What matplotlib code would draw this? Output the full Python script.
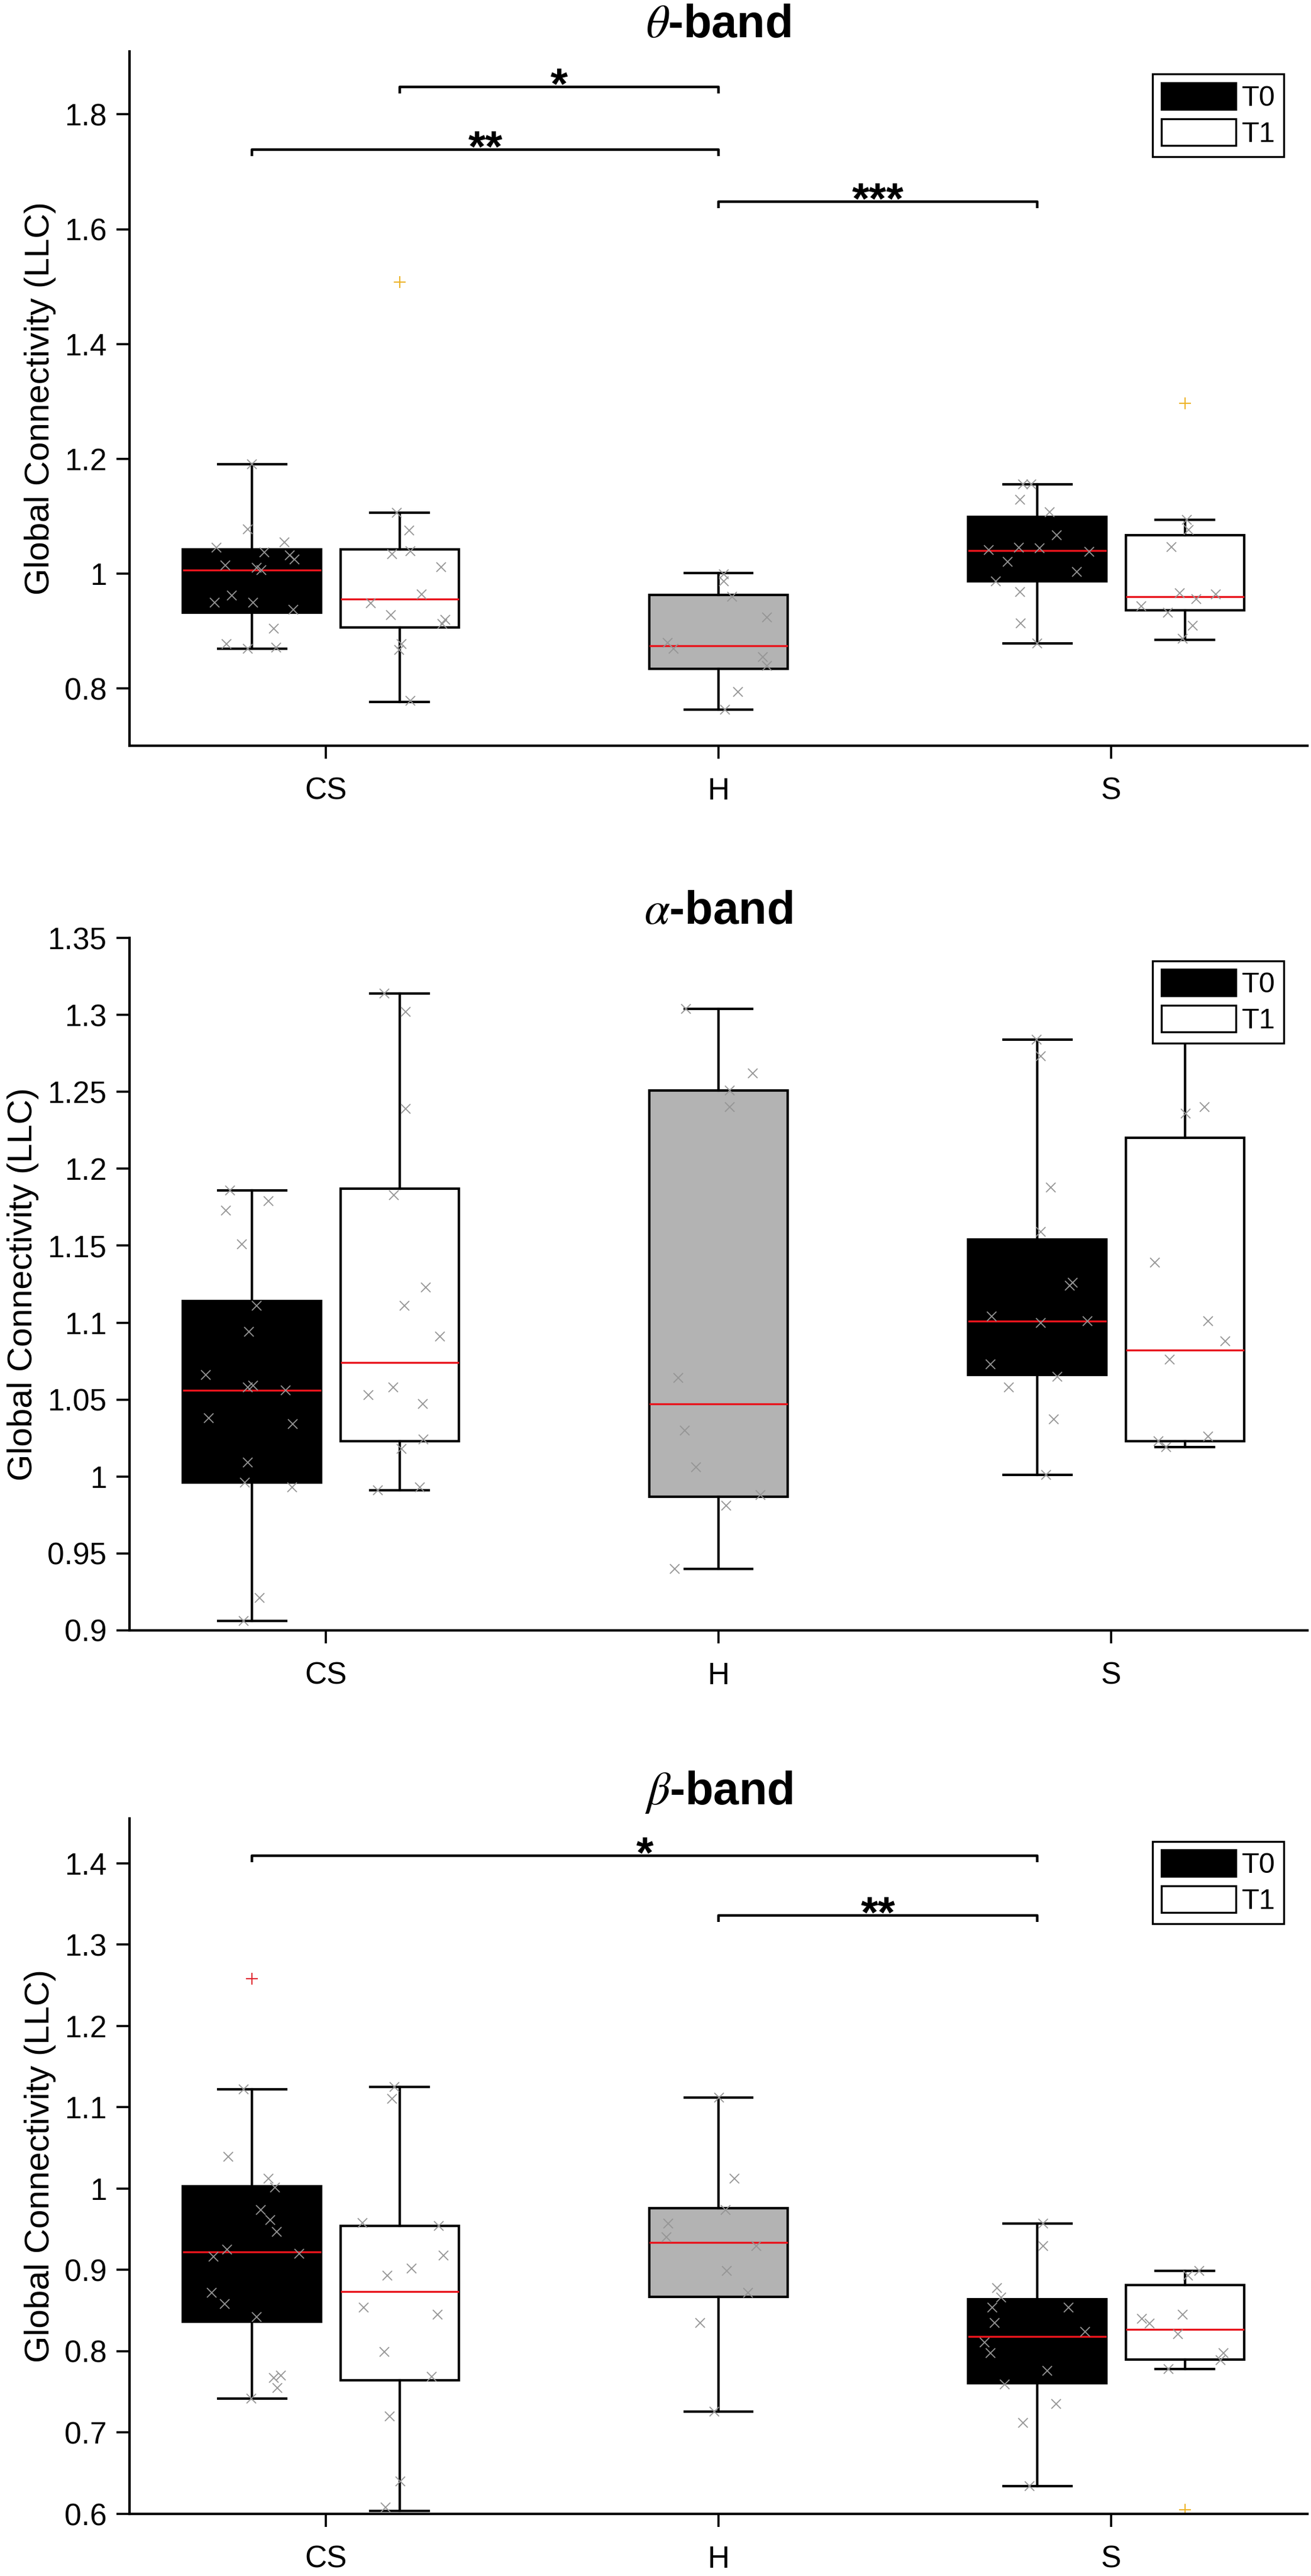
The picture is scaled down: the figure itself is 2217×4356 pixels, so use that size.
import numpy as np
import matplotlib
matplotlib.use("Agg")
import matplotlib.pyplot as plt
from matplotlib.patches import Patch


# =========================
# DATA
# =========================
GROUPS = ["CS", "H", "S"]
LEGEND_LABELS = ["T0", "T1"]

# box order: CS-T0, CS-T1, H, S-T0, S-T1

# theta band
theta_lo = [0.869, 0.776, 0.763, 0.878, 0.884]
theta_q1 = [0.932, 0.906, 0.834, 0.986, 0.936]
theta_med = [1.006, 0.956, 0.874, 1.040, 0.960]
theta_q3 = [1.042, 1.042, 0.963, 1.099, 1.067]
theta_hi = [1.190, 1.106, 1.001, 1.155, 1.094]
theta_out = [[], [1.508], [], [], [1.297]]
theta_pts = [
    [1.190, 1.077, 1.045, 1.055, 1.037, 1.032, 1.025, 1.014, 1.010, 1.006,
     0.962, 0.949, 0.949, 0.937, 0.904, 0.877, 0.869, 0.871],
    [1.106, 1.075, 1.034, 1.039, 1.011, 0.964, 0.948, 0.928, 0.920, 0.912,
     0.877, 0.867, 0.778],
    [0.999, 0.987, 0.960, 0.924, 0.879, 0.869, 0.855, 0.839, 0.794, 0.763],
    [1.155, 1.155, 1.129, 1.107, 1.067, 1.041, 1.045, 1.044, 1.038, 1.021,
     1.003, 0.986, 0.968, 0.913, 0.878],
    [1.094, 1.076, 1.046, 0.966, 0.956, 0.964, 0.943, 0.932, 0.909, 0.887],
]
theta_jit = [
    [0.000, -0.011, -0.090, 0.083, 0.032, 0.096, 0.108, -0.068, 0.011, 0.024,
     -0.051, -0.095, 0.002, 0.105, 0.056, -0.065, -0.011, 0.062],
    [-0.008, 0.024, -0.020, 0.027, 0.105, 0.056, -0.074, -0.023, 0.116, 0.108,
     0.005, -0.002, 0.027],
    [0.013, 0.013, 0.034, 0.123, -0.130, -0.114, 0.113, 0.123, 0.049, 0.017],
    [-0.037, -0.016, -0.044, 0.032, 0.050, -0.124, -0.047, 0.005, 0.132, -0.076,
     0.100, -0.106, -0.044, -0.043, 0.000],
    [0.005, 0.010, -0.035, -0.014, 0.029, 0.078, -0.111, -0.043, 0.020, -0.006],
]
theta_ticks = [0.8, 1.0, 1.2, 1.4, 1.6, 1.8]
# (from box, to box, height, stars)
theta_sig = [(0, 2, 1.739, "**"), (1, 2, 1.848, "*"), (2, 3, 1.648, "***")]

# alpha band
alpha_lo = [0.906, 0.991, 0.940, 1.001, 1.019]
alpha_q1 = [0.996, 1.023, 0.987, 1.066, 1.023]
alpha_med = [1.056, 1.074, 1.047, 1.101, 1.082]
alpha_q3 = [1.114, 1.187, 1.251, 1.154, 1.220]
alpha_hi = [1.186, 1.314, 1.304, 1.284, 1.320]
alpha_out = [[], [], [], [], []]
alpha_pts = [
    [1.186, 1.179, 1.173, 1.151, 1.111, 1.094, 1.066, 1.058, 1.059, 1.056,
     1.038, 1.034, 1.009, 0.996, 0.993, 0.921, 0.906],
    [1.314, 1.302, 1.239, 1.183, 1.123, 1.111, 1.091, 1.058, 1.053, 1.047,
     1.024, 1.018, 0.993, 0.991],
    [1.304, 1.262, 1.251, 1.240, 1.064, 1.030, 1.006, 0.988, 0.981, 0.940],
    [1.284, 1.273, 1.188, 1.159, 1.124, 1.126, 1.104, 1.100, 1.101, 1.073,
     1.065, 1.058, 1.037, 1.001],
    [1.319, 1.236, 1.240, 1.139, 1.101, 1.088, 1.076, 1.023, 1.019, 1.026],
]
alpha_jit = [
    [-0.056, 0.042, -0.066, -0.026, 0.012, -0.008, -0.118, -0.011, 0.003, 0.085,
     -0.110, 0.104, -0.011, -0.019, 0.102, 0.019, -0.021],
    [-0.039, 0.015, 0.015, -0.015, 0.066, 0.012, 0.103, -0.017, -0.080, 0.059,
     0.060, 0.004, 0.052, -0.056],
    [-0.083, 0.087, 0.029, 0.029, -0.102, -0.086, -0.057, 0.107, 0.020, -0.111],
    [-0.002, 0.009, 0.035, 0.009, 0.082, 0.090, -0.116, 0.009, 0.127, -0.120,
     0.051, -0.072, 0.042, 0.023],
    [-0.071, 0.002, 0.050, -0.076, 0.059, 0.103, -0.039, -0.067, -0.048, 0.059],
]
alpha_ticks = [0.9, 0.95, 1.0, 1.05, 1.1, 1.15, 1.2, 1.25, 1.3, 1.35]
alpha_sig = []

# beta band
beta_lo = [0.742, 0.604, 0.726, 0.634, 0.778]
beta_q1 = [0.836, 0.764, 0.867, 0.761, 0.790]
beta_med = [0.922, 0.873, 0.934, 0.818, 0.827]
beta_q3 = [1.003, 0.954, 0.976, 0.864, 0.881]
beta_hi = [1.122, 1.125, 1.112, 0.957, 0.899]
beta_out = [[1.258], [], [], [], [0.605]]
beta_pts = [
    [1.122, 1.039, 1.012, 1.001, 0.974, 0.961, 0.947, 0.925, 0.916, 0.920,
     0.872, 0.858, 0.842, 0.767, 0.770, 0.755, 0.742],
    [1.125, 1.110, 0.958, 0.954, 0.918, 0.902, 0.893, 0.854, 0.845, 0.799,
     0.769, 0.720, 0.640, 0.608],
    [1.112, 1.012, 0.974, 0.957, 0.940, 0.929, 0.899, 0.872, 0.835, 0.726],
    [0.957, 0.929, 0.878, 0.866, 0.854, 0.854, 0.835, 0.824, 0.811, 0.798,
     0.776, 0.759, 0.735, 0.712, 0.634],
    [0.899, 0.893, 0.840, 0.834, 0.845, 0.821, 0.798, 0.789, 0.778],
]
beta_jit = [
    [-0.022, -0.061, 0.042, 0.058, 0.022, 0.046, 0.063, -0.064, -0.098, 0.120,
     -0.103, -0.069, 0.012, 0.055, 0.074, 0.064, -0.002],
    [-0.014, -0.019, -0.094, 0.099, 0.111, 0.030, -0.031, -0.091, 0.096, -0.039,
     0.081, -0.025, 0.001, -0.036],
    [0.001, 0.040, 0.018, -0.128, -0.133, 0.096, 0.021, 0.076, -0.046, -0.011],
    [0.015, 0.015, -0.103, -0.092, -0.114, 0.080, -0.108, 0.121, -0.134, -0.120,
     0.026, -0.083, 0.048, -0.036, -0.020],
    [0.036, 0.008, -0.110, -0.090, -0.006, -0.018, 0.098, 0.090, -0.042],
]
beta_ticks = [0.6, 0.7, 0.8, 0.9, 1.0, 1.1, 1.2, 1.3, 1.4]
beta_sig = [(0, 3, 1.409, "*"), (2, 3, 1.336, "**")]


# =========================
# STYLE
# =========================
BOX_POS = [0.812, 1.188, 2.0, 2.812, 3.188]
BOX_W = [0.353, 0.302, 0.353, 0.353, 0.302]
CAP_W = [0.173, 0.149, 0.173, 0.173, 0.149]
BOX_FACE = ["black", "white", "#b3b3b3", "black", "white"]
OUT_COL = ["#e0202c", "#edb120", "#edb120", "#edb120", "#edb120"]
MED_COL = "#e8141c"
PT_COL = "#959595"
LW = 3.0

plt.rcParams["font.family"] = ["Liberation Sans", "DejaVu Sans"]
plt.rcParams["mathtext.fontset"] = "stix"

FIG_W, FIG_H = 22.17, 43.56
fig = plt.figure(figsize=(FIG_W, FIG_H), dpi=100)

AX_LEFT, AX_W = 0.0988, 0.8985
panels = [
    (r"$\theta$-band", [AX_LEFT, 0.7105, AX_W, 0.2696], (0.7, 1.91),
     theta_lo, theta_q1, theta_med, theta_q3, theta_hi, theta_out,
     theta_pts, theta_jit, theta_ticks, theta_sig),
    (r"$\alpha$-band", [AX_LEFT, 0.3671, AX_W, 0.2688], (0.9, 1.35),
     alpha_lo, alpha_q1, alpha_med, alpha_q3, alpha_hi, alpha_out,
     alpha_pts, alpha_jit, alpha_ticks, alpha_sig),
    (r"$\beta$-band", [AX_LEFT, 0.0241, AX_W, 0.2700], (0.6, 1.455),
     beta_lo, beta_q1, beta_med, beta_q3, beta_hi, beta_out,
     beta_pts, beta_jit, beta_ticks, beta_sig),
]


def draw_panel(p):
    (title, rect, ylim, lo, q1, med, q3, hi, out, pts, jit, ticks, sig) = p
    ax = fig.add_axes(rect)

    stats = []
    for i in range(len(BOX_POS)):
        stats.append(dict(whislo=lo[i], q1=q1[i], med=med[i], q3=q3[i],
                          whishi=hi[i], fliers=out[i]))

    res = ax.bxp(stats, positions=BOX_POS, widths=BOX_W, capwidths=CAP_W,
                 patch_artist=True, manage_ticks=False,
                 boxprops=dict(linewidth=LW, edgecolor="black"),
                 whiskerprops=dict(linewidth=LW, color="black"),
                 capprops=dict(linewidth=LW, color="black"),
                 medianprops=dict(linewidth=2.4, color=MED_COL),
                 flierprops=dict(marker="+", markersize=15,
                                 markeredgewidth=1.4, linestyle="none"))
    for i, b in enumerate(res["boxes"]):
        b.set_facecolor(BOX_FACE[i])
    for i, fl in enumerate(res["fliers"]):
        fl.set_markeredgecolor(OUT_COL[i])

    # individual subjects
    for i in range(len(BOX_POS)):
        ax.plot(BOX_POS[i] + np.array(jit[i]), pts[i], "x", color=PT_COL,
                markersize=11, markeredgewidth=1.3, zorder=4)

    # significance brackets
    drop = 0.0094 * (ylim[1] - ylim[0])
    for a, b, y, stars in sig:
        xa, xb = BOX_POS[a], BOX_POS[b]
        ax.plot([xa, xa, xb, xb], [y - drop, y, y, y - drop], color="black",
                linewidth=3.2, solid_capstyle="butt", zorder=3)
        ax.annotate(stars, xy=((xa + xb) / 2, y), xytext=(0, -14),
                    textcoords="offset points", ha="center", va="baseline",
                    fontsize=54, fontweight="bold")

    ax.set_xlim(0.5, 3.5)
    ax.set_ylim(*ylim)
    ax.set_xticks([1, 2, 3])
    ax.set_xticklabels(GROUPS)
    ax.set_yticks(ticks)
    ax.set_yticklabels([f"{t:g}" for t in ticks])

    for s in ["top", "right"]:
        ax.spines[s].set_visible(False)
    for s in ["left", "bottom"]:
        ax.spines[s].set_linewidth(3.0)
    ax.tick_params(axis="both", direction="out", length=16, width=2.6,
                   labelsize=37)
    ax.tick_params(axis="y", pad=12)
    ax.tick_params(axis="x", pad=22)

    ax.set_ylabel("Global Connectivity (LLC)", fontsize=42, labelpad=10)
    ax.set_title(title, fontsize=56, fontweight="bold", pad=17)

    handles = [Patch(facecolor="black", edgecolor="black", linewidth=2.4,
                     label=LEGEND_LABELS[0]),
               Patch(facecolor="white", edgecolor="black", linewidth=2.4,
                     label=LEGEND_LABELS[1])]
    leg = ax.legend(handles=handles, loc="upper right",
                    bbox_to_anchor=(0.98, 0.967), borderaxespad=0,
                    fontsize=35, handlelength=2.6, handleheight=1.04,
                    handletextpad=0.2, borderpad=0.3, labelspacing=0.25,
                    fancybox=False, framealpha=1, edgecolor="black")
    leg.get_frame().set_linewidth(2.4)
    return ax


for p in panels:
    draw_panel(p)

fig.savefig("out.png", dpi=100)
